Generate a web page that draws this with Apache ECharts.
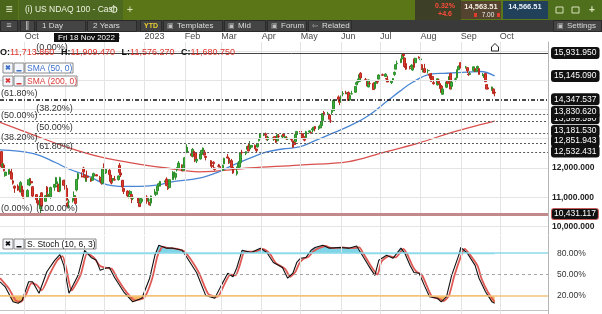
<!DOCTYPE html>
<html><head><meta charset="utf-8">
<script src="https://cdn.jsdelivr.net/npm/echarts@6/dist/echarts.min.js"></script>
<style>html,body{margin:0;padding:0;background:#fff}#c{width:602px;height:314px}</style>
</head><body><div id="c"></div><script>
// ---------- DATA (daily candles: [day, open, high, low, close]) ----------
const sep2022 = [[13,12560,12580,11990,12040],[14,12090,12180,11980,12130],[15,12100,12160,11880,11910],[16,11740,11870,11700,11860],[19,11790,11960,11770,11950],[20,11850,11900,11750,11830],[21,11840,12000,11610,11620],[22,11560,11600,11430,11480],[23,11380,11400,11150,11310],[26,11300,11440,11220,11250],[27,11380,11450,11170,11260],[28,11250,11550,11160,11500],[29,11380,11400,11050,11160],[30,11150,11260,10960,10970]];
const oct2022 = [[3,11010,11280,10990,11230],[4,11420,11610,11420,11600],[5,11420,11660,11380,11570],[6,11540,11650,11470,11490],[7,11360,11380,11000,11040],[10,11090,11110,10820,10920],[11,10880,10970,10720,10800],[12,10830,10890,10760,10800],[13,10600,11080,10440,11040],[14,11150,11170,10690,10700],[17,10860,11070,10860,11050],[18,11350,11380,10990,11130],[19,11010,11180,10990,11100],[20,11080,11260,11000,11060],[21,11010,11360,10950,11330],[24,11340,11450,11220,11440],[25,11450,11690,11430,11670],[26,11350,11540,11350,11400],[27,11440,11460,11180,11200],[28,11210,11700,11170,11670],[31,11570,11600,11400,11410]];
const nov2022 = [[1,11580,11600,11260,11320],[2,11310,11420,10890,10900],[3,10800,10850,10660,10690],[4,10840,10930,10630,10840],[7,10880,10980,10820,10960],[8,11000,11200,10920,11060],[9,11000,11030,10780,10790],[10,11250,11620,11200,11610],[11,11620,11840,11580,11800],[14,11730,11850,11680,11690],[15,12000,12040,11740,11860],[16,11760,11780,11650,11680],[17,11540,11690,11530,11670],[18,11715,11909,11576,11681],[21,11650,11660,11530,11550],[22,11580,11710,11560,11700],[23,11720,11840,11680,11810],[25,11770,11790,11720,11730],[28,11680,11730,11540,11560],[29,11560,11580,11430,11480],[30,11490,12000,11440,11990]];
const dec2022 = [[1,12040,12160,11930,12030],[2,11830,12000,11800,11960],[5,11920,11990,11730,11780],[6,11760,11790,11470,11540],[7,11500,11590,11440,11490],[8,11590,11660,11520,11640],[9,11600,11730,11580,11590],[12,11600,11740,11570,11730],[13,12090,12170,11750,11850],[14,11830,11990,11690,11760],[15,11580,11590,11310,11350],[16,11300,11320,11110,11200],[19,11210,11240,11000,11050],[20,11000,11120,10960,11040],[21,11100,11240,11070,11200],[22,11090,11090,10800,10960],[23,10960,11020,10900,11000],[27,10990,10990,10800,10860],[28,10850,10900,10670,10680],[29,10800,10990,10780,10960],[30,10860,10950,10850,10940]];
const jan2023 = [[3,11010,11070,10780,10860],[4,10900,10980,10800,10910],[5,10830,10840,10720,10740],[6,10800,11060,10700,11040],[9,11110,11280,11090,11110],[10,11100,11190,11040,11180],[11,11220,11390,11190,11380],[12,11400,11490,11280,11460],[13,11380,11560,11370,11540],[17,11520,11600,11480,11560],[18,11620,11680,11380,11400],[19,11330,11390,11250,11290],[20,11330,11610,11300,11600],[23,11600,11890,11590,11860],[24,11810,11880,11780,11830],[25,11680,11820,11600,11810],[26,11940,12020,11880,12010],[27,11990,12240,11980,12170],[30,12100,12120,11890,11900],[31,11920,12110,11900,12100]];
const feb2023 = [[1,12090,12380,11970,12350],[2,12520,12880,12500,12800],[3,12560,12720,12520,12570],[6,12490,12510,12390,12420],[7,12410,12680,12360,12640],[8,12570,12600,12380,12400],[9,12520,12530,12200,12250],[10,12240,12310,12170,12300],[13,12310,12500,12290,12480],[14,12460,12620,12360,12600],[15,12560,12700,12530,12680],[16,12540,12620,12440,12440],[17,12400,12410,12260,12360],[21,12250,12270,12060,12060],[22,12080,12140,12000,12060],[23,12200,12230,12000,12150],[24,12000,12010,11910,11950],[27,12070,12140,12020,12060],[28,12040,12120,12020,12040]];
const mar2023 = [[1,12040,12080,11930,11980],[2,11920,12110,11900,12090],[3,12140,12350,12130,12330],[6,12380,12480,12330,12340],[7,12340,12380,12140,12170],[8,12180,12260,12150,12240],[9,12250,12310,12000,12020],[10,12030,12060,11800,11830],[13,11800,12050,11740,11890],[14,12010,12180,11970,12150],[15,12030,12250,11980,12230],[16,12180,12540,12130,12520],[17,12540,12620,12460,12520],[20,12500,12570,12440,12560],[21,12640,12760,12610,12740],[22,12740,12850,12570,12580],[23,12680,12920,12640,12770],[24,12710,12790,12640,12770],[27,12780,12800,12640,12660],[28,12650,12660,12530,12590],[29,12720,12850,12700,12840],[30,12930,13010,12910,12980],[31,13000,13190,12990,13180]];
const apr2023 = [[3,13130,13200,13090,13150],[4,13170,13210,13080,13130],[5,13090,13100,12940,12990],[6,12970,13080,12920,13060],[10,12990,13050,12930,13040],[11,13070,13070,12960,12980],[12,13050,13090,12860,12880],[13,12930,13150,12920,13140],[14,13090,13160,13000,13080],[17,13060,13110,13020,13110],[18,13160,13180,13060,13090],[19,13020,13110,13000,13070],[20,13000,13090,12960,13000],[21,13000,13040,12960,13010],[24,13000,13010,12900,12970],[25,12930,12940,12700,12710],[26,12870,12880,12740,12800],[27,12900,13170,12890,13150],[28,13140,13250,13080,13250]];
const may2023 = [[1,13250,13290,13210,13230],[2,13180,13200,12990,13080],[3,13080,13190,12980,12990],[4,12980,13020,12910,12950],[5,13040,13270,13020,13240],[8,13230,13290,13200,13270],[9,13220,13230,13180,13190],[10,13300,13380,13210,13340],[11,13330,13410,13280,13390],[12,13420,13430,13250,13340],[15,13350,13440,13300,13410],[16,13370,13480,13370,13410],[17,13450,13610,13400,13590],[18,13620,13880,13600,13860],[19,13900,13950,13790,13810],[22,13820,13920,13820,13860],[23,13810,13850,13660,13670],[24,13610,13690,13540,13610],[25,13900,14010,13840,13940],[26,13960,14330,13950,14300],[30,14430,14480,14250,14350],[31,14290,14320,14150,14250]];
const jun2023 = [[1,14260,14480,14240,14460],[2,14530,14630,14450,14550],[5,14560,14640,14520,14550],[6,14530,14600,14470,14570],[7,14580,14620,14300,14310],[8,14330,14490,14300,14480],[9,14530,14640,14520,14540],[12,14590,14790,14570,14790],[13,14860,14960,14820,14920],[14,14920,15050,14830,15030],[15,14960,15200,14940,15190],[16,15240,15280,15060,15080],[20,15030,15080,14990,15030],[21,15000,15010,14790,14820],[22,14770,15020,14760,15010],[23,14890,14950,14850,14890],[26,14890,14930,14680,14680],[27,14720,14940,14700,14930],[28,14900,15010,14890,14960],[29,14960,14970,14880,14940],[30,15040,15200,15030,15180]];
const jul2023 = [[3,15190,15230,15150,15170],[5,15130,15240,15110,15210],[6,15060,15080,14930,15040],[7,15010,15150,14930,14940],[10,14920,14990,14870,14980],[11,15000,15070,14940,15060],[12,15200,15300,15150,15270],[13,15380,15550,15370,15530],[14,15560,15670,15520,15580],[17,15600,15740,15590,15720],[18,15730,15880,15670,15860],[19,15900,15932,15800,15840],[20,15760,15780,15420,15470],[21,15570,15600,15350,15380],[24,15420,15490,15370,15400],[25,15450,15550,15430,15510],[26,15350,15530,15320,15470],[27,15720,15740,15400,15440],[28,15600,15770,15590,15750],[31,15790,15820,15740,15760]];
const aug2023 = [[1,15700,15760,15680,15730],[2,15530,15550,15350,15380],[3,15290,15400,15270,15340],[4,15400,15560,15250,15270],[7,15330,15380,15230,15330],[8,15210,15230,15060,15170],[9,15220,15230,14950,14960],[10,15130,15250,14960,14990],[11,14920,14980,14850,14880],[14,14840,15060,14820,15050],[15,15010,15040,14880,14900],[16,14890,14950,14710,14720],[17,14800,14840,14570,14580],[18,14520,14730,14500,14700],[21,14760,14950,14730,14940],[22,14990,15000,14860,14890],[23,14970,15140,14960,15120],[24,15230,15250,14690,14700],[25,14790,14980,14690,14940],[28,15030,15090,14960,15050],[29,15080,15370,15070,15350],[30,15360,15480,15340,15460],[31,15480,15560,15450,15500]];
const sep2023 = [[1,15600,15620,15400,15450],[5,15450,15490,15400,15450],[6,15430,15450,15250,15320],[7,15210,15250,15150,15190],[8,15200,15300,15180,15230],[11,15330,15470,15300,15460],[12,15400,15420,15290,15300],[13,15310,15410,15280,15360],[14,15420,15500,15370,15470],[15,15400,15420,15190,15200],[18,15180,15250,15140,15200],[19,15150,15200,15080,15180],[20,15230,15250,14940,14950],[21,14850,14860,14690,14700],[22,14740,14860,14690,14700],[25,14680,14780,14640,14770],[26,14700,14720,14520,14550],[27,14590,14660,14450,14565]];

const sma50 = [['2022-09-12',12620],['2022-10-07',12500],['2022-10-25',12180],['2022-11-02',12000],['2022-11-20',11700],['2022-12-03',11430],['2022-12-16',11370],['2022-12-29',11370],['2023-01-12',11420],['2023-01-21',11520],['2023-02-12',11650],['2023-02-25',11830],['2023-03-10',12100],['2023-03-23',12340],['2023-04-05',12550],['2023-04-17',12650],['2023-04-30',12720],['2023-05-13',12950],['2023-05-26',13200],['2023-06-08',13450],['2023-06-21',13760],['2023-07-06',14270],['2023-07-16',14620],['2023-07-26',14930],['2023-08-08',15200],['2023-08-21',15240],['2023-09-06',15280],['2023-09-16',15300],['2023-09-27',15150]];
const sma200 = [['2022-09-12',13560],['2022-10-07',13140],['2022-11-02',12720],['2022-11-28',12380],['2022-12-23',12170],['2023-01-18',12000],['2023-02-12',11870],['2023-03-23',12000],['2023-04-30',12100],['2023-06-07',12220],['2023-07-01',12500],['2023-07-31',12860],['2023-08-24',13200],['2023-09-16',13480],['2023-09-27',13600]];

const stochK = [['2022-09-12',40],['2022-09-16',33],['2022-09-22',12],['2022-09-26',10],['2022-09-29',14],['2022-10-04',40],['2022-10-07',40],['2022-10-12',24],['2022-10-18',54],['2022-10-24',70],['2022-10-28',78],['2022-10-31',63],['2022-11-04',24],['2022-11-11',49],['2022-11-16',84],['2022-11-21',74],['2022-11-25',70],['2022-11-28',56],['2022-12-02',59],['2022-12-05',60],['2022-12-09',46],['2022-12-16',26],['2022-12-23',12],['2022-12-30',17],['2023-01-05',45],['2023-01-09',77],['2023-01-12',91],['2023-01-18',87],['2023-01-23',87],['2023-01-30',84],['2023-02-03',73],['2023-02-10',53],['2023-02-17',21],['2023-02-24',17],['2023-03-01',35],['2023-03-06',52],['2023-03-10',47],['2023-03-13',60],['2023-03-17',84],['2023-03-24',81],['2023-03-31',87],['2023-04-05',81],['2023-04-10',67],['2023-04-17',60],['2023-04-21',45],['2023-04-25',52],['2023-04-28',67],['2023-05-01',73],['2023-05-05',74],['2023-05-09',84],['2023-05-12',88],['2023-05-18',91],['2023-05-23',87],['2023-05-31',88],['2023-06-07',87],['2023-06-13',90],['2023-06-16',81],['2023-06-22',63],['2023-06-27',49],['2023-06-30',70],['2023-07-06',77],['2023-07-11',73],['2023-07-17',87],['2023-07-20',80],['2023-07-24',63],['2023-07-27',53],['2023-07-31',52],['2023-08-04',35],['2023-08-08',19],['2023-08-14',17],['2023-08-17',12],['2023-08-21',19],['2023-08-25',49],['2023-08-31',80],['2023-09-01',88],['2023-09-06',80],['2023-09-12',63],['2023-09-15',45],['2023-09-20',26],['2023-09-25',12],['2023-09-27',10]];
const stochD = [['2022-09-12',45],['2022-09-19',30],['2022-09-24',14],['2022-09-28',12],['2022-10-02',22],['2022-10-06',38],['2022-10-10',36],['2022-10-14',28],['2022-10-20',50],['2022-10-26',70],['2022-10-30',76],['2022-11-02',58],['2022-11-06',28],['2022-11-13',50],['2022-11-18',80],['2022-11-23',74],['2022-11-28',62],['2022-12-04',59],['2022-12-07',58],['2022-12-11',45],['2022-12-18',26],['2022-12-25',14],['2023-01-01',18],['2023-01-07',45],['2023-01-11',76],['2023-01-15',89],['2023-01-20',87],['2023-01-26',86],['2023-02-01',82],['2023-02-06',70],['2023-02-12',52],['2023-02-19',23],['2023-02-26',19],['2023-03-03',35],['2023-03-08',50],['2023-03-12',49],['2023-03-15',62],['2023-03-19',82],['2023-03-26',82],['2023-04-02',86],['2023-04-07',80],['2023-04-12',66],['2023-04-19',58],['2023-04-23',47],['2023-04-27',54],['2023-04-30',66],['2023-05-03',72],['2023-05-07',75],['2023-05-11',83],['2023-05-15',87],['2023-05-20',90],['2023-05-25',87],['2023-06-02',88],['2023-06-09',87],['2023-06-15',88],['2023-06-18',80],['2023-06-24',62],['2023-06-29',50],['2023-07-02',68],['2023-07-08',76],['2023-07-13',74],['2023-07-19',86],['2023-07-22',78],['2023-07-26',62],['2023-07-29',54],['2023-08-02',50],['2023-08-06',34],['2023-08-10',19],['2023-08-16',16],['2023-08-19',13],['2023-08-23',21],['2023-08-27',48],['2023-09-02',80],['2023-09-04',86],['2023-09-08',78],['2023-09-14',62],['2023-09-17',44],['2023-09-22',25],['2023-09-27',12]];

const fibALevels = [15931.950, 13830.620, 13181.530, 12532.431, 10431.117];
const fibALabels = ['(0.00%)', '(38.20%)', '(50.00%)', '(61.80%)', '(100.00%)'];
const fibBLevels = [10431.117, 12851.943, 13599.590, 14347.537];
const fibBLabels = ['(0.00%)', '(38.20%)', '(50.00%)', '(61.80%)'];
// drawn in this order (later ones on top)
const priceTags = [15931.950, 15145.090, 14347.537, 13599.590, 13830.620, 13181.530, 12851.943, 12532.431, 10431.117];
const priceGrid = [10000, 11000, 12000, 13000, 14000, 15000, 16000];
const stochLevels = [80, 50, 20];
const stochLevelLabels = ['80.00%', '50.00%', '20.00%'];
const monthStarts = ['2022-10-01','2022-11-01','2022-12-01','2023-01-01','2023-02-01','2023-03-01','2023-04-01','2023-05-01','2023-06-01','2023-07-01','2023-08-01','2023-09-01','2023-10-01'];
const monthNames = ['Jan','Feb','Mar','Apr','May','Jun','Jul','Aug','Sep','Oct','Nov','Dec'];
const ohlcText = {o: '11,713.860', h: '11,909.470', l: '11,576.270', c: '11,680.750'};

// ---------- BUILD ----------
const ts = s => { const p = s.split('-').map(Number); return new Date(p[0], p[1]-1, p[2]).getTime(); };
const monthRows = [['2022-09',sep2022],['2022-10',oct2022],['2022-11',nov2022],['2022-12',dec2022],['2023-01',jan2023],['2023-02',feb2023],['2023-03',mar2023],['2023-04',apr2023],['2023-05',may2023],['2023-06',jun2023],['2023-07',jul2023],['2023-08',aug2023],['2023-09',sep2023]];
const candleData = [];
monthRows.forEach(([ym, rows]) => {
  const p = ym.split('-').map(Number);
  rows.forEach(r => candleData.push([new Date(p[0], p[1]-1, r[0]).getTime(), r[1], r[4], r[3], r[2]]));
});
const toXY = arr => arr.map(([d, v]) => [ts(d), v]);
const fmt3 = v => v.toLocaleString('en-US', {minimumFractionDigits: 3, maximumFractionDigits: 3});

const xMin = ts('2022-09-12'), xMax = ts('2023-11-07');
const fibAStart = ts('2022-10-09');
const yMin = 9709, yMax = 16308;
const sMin = -5, sMax = 104;
const sTop = 236, sH = 78;
const hUp = (sMax - 80) / (sMax - sMin) * sH;
const lowTop = sTop + (sMax - 20) / (sMax - sMin) * sH;
const hLow = (20 - sMin) / (sMax - sMin) * sH;

const dottedStyle = {color: '#5a5a5a', width: 1, type: [2, 2]};
const fibLineStyle = (lvl) => {
  if (lvl === 15931.950) return {color: '#444', width: 1, type: 'solid'};
  if (lvl === 14347.537) return {color: '#111', width: 1.6, type: [4, 2, 1, 2]};
  if (lvl === 10431.117) return {color: '#c28a8a', width: 3, type: 'solid'};
  return dottedStyle;
};
const fibLabel = (t, dx) => ({show: true, position: 'insideStartTop', formatter: t, color: '#333', fontSize: 9, fontFamily: 'Arial', distance: [dx, 1]});

const fibData = [];
fibBLevels.forEach((v, i) => fibData.push({yAxis: v, lineStyle: fibLineStyle(v), label: fibLabel(fibBLabels[i], 1)}));
fibALevels.forEach((v, i) => fibData.push([{coord: [fibAStart, v], lineStyle: fibLineStyle(v), label: fibLabel(fibALabels[i], 1)}, {coord: [xMax, v]}]));

const tagShift = {13830.62: -2.5, 13599.59: -3, 13181.53: -2.5, 12851.943: -2, 12532.431: -1};
const tagData = priceTags.map(v => ({yAxis: v, label: {formatter: fmt3(v), offset: [0, tagShift[v] || 0],
  borderColor: v === 10431.117 ? '#c75a5a' : '#111', borderWidth: 1}}));

const monthLines = monthStarts.map(s => ({xAxis: ts(s)}));
const gridLineML = (extra) => ({silent: true, symbol: ['none','none'], animation: false, label: {show: false},
  lineStyle: {color: '#e4e4e4', width: 1, type: 'solid'}, data: extra});

// ---------- CHROME ----------
const G = [];
const rect = (x, y, w, h, fill, stroke) => G.push({type: 'rect', silent: true, z: 100, shape: {x, y, width: w, height: h, r: 0}, style: {fill, stroke: stroke || null, lineWidth: stroke ? 1 : 0}});
const txt = (x, y, s, color, font, align) => G.push({type: 'text', silent: true, z: 101, x, y, style: {text: s, fill: color, font: font || '8px Arial', align: align || 'left', verticalAlign: 'middle'}});
// row 1
rect(0, 0, 602, 20, '#5b7617');
rect(0, 0, 18, 20, '#4b661a');
txt(9, 10, '\u2261', '#e6ecd2', 'bold 12px Arial', 'center');
rect(19, 0, 104, 20, '#4d6820');
txt(25, 10, '(i) US NDAQ 100 - Cash', '#eef2e2', '8.5px Arial');
G.push({type: 'circle', silent: true, z: 101, shape: {cx: 114, cy: 9.5, r: 3}, style: {fill: null, stroke: '#dfe6cc', lineWidth: 1}});
txt(130, 10, '+', '#d8e2b8', '11px Arial', 'center');
rect(415, 0, 46, 20, '#3d3f27');
txt(445, 6, '0.32%', '#ff4b3a', 'bold 7px Arial', 'center');
txt(445, 14.5, '+4.6', '#ff4b3a', 'bold 7px Arial', 'center');
rect(461, 1, 40, 18, '#54432f');
txt(481, 6.5, '14,563.51', '#f3ece0', 'bold 7.5px Arial', 'center');
rect(474, 13, 3, 4, '#e23b2b'); txt(488, 15, '7.00', '#f0f0f0', '6.5px Arial', 'center'); rect(497, 13, 3, 4, '#e23b2b');
rect(503, 1, 45, 18, '#21405a');
txt(525, 6.5, '14,566.51', '#e8f0f8', 'bold 7.5px Arial', 'center');
rect(548, 0, 54, 20, '#4f6f1c');
rect(556, 7, 7, 6, null, '#d7e2b8'); rect(572, 7, 7, 6, null, '#d7e2b8'); txt(592, 10, '+', '#d7e2b8', 'bold 10px Arial', 'center');
// row 2
rect(0, 20, 602, 12, '#3a3a3a');
const btns = [[0,18,'\u2261'],[20,15,'\u2225'],[36,50,'1 Day'],[87,50,'2 Years'],[140,22,'YTD'],[163,60,'Templates'],[224,42,'Mid'],[267,40,'Forum'],[308,44,'Related'],[553,49,'Settings']];
btns.forEach(([x, w, t]) => {
  rect(x + 0.5, 20.5, w - 1, 11, '#444444', '#2a2a2a');
  let tx = x + 6;
  if (t === 'YTD') { txt(x + w / 2, 26, t, '#e8cf2e', 'bold 7px Arial', 'center'); return; }
  if (['Templates','Mid','Forum','Related','Settings'].includes(t)) { txt(x + 4, 26, t === 'Related' ? '\u21e6' : '\u25a3', '#bdbdbd', '7px Arial'); tx = x + 14; }
  if (t.length <= 2) { txt(x + w / 2, 26, t, '#cfcfcf', '9px Arial', 'center'); return; }
  txt(tx, 26, t, '#dcdcdc', '8px Arial');
});
// crosshair date tag
rect(54, 33, 65, 9, '#111');
txt(86.5, 37.5, 'Fri 18 Nov 2022', '#ffffff', '8px Arial', 'center');
// OHLC line
G.push({type: 'text', silent: true, z: 101, x: 0, y: 53, style: {
  text: '{k|O:}{v|' + ohlcText.o + '}  {k|H:}{v|' + ohlcText.h + '}  {k|L:}{v|' + ohlcText.l + '}  {k|C:}{v|' + ohlcText.c + '}',
  verticalAlign: 'middle', rich: {k: {fill: '#111', font: 'bold 9px Arial'}, v: {fill: '#e0342c', font: '9px Arial'}}}});
// indicator legends
const legendBox = (x, y, w, color, label) => {
  rect(x, y, 10, 10, '#f4f6fb', '#8a8a8a'); txt(x + 5, y + 5, '\u2716', color, 'bold 7px Arial', 'center');
  rect(x + 11, y, 10, 10, '#f4f6fb', '#8a8a8a'); rect(x + 13.5, y + 7, 5, 1.5, color);
  rect(x + 22, y, w, 10, '#ffffff', '#8a8a8a'); txt(x + 24, y + 5.5, label, color, '8.5px Arial');
};
legendBox(3, 63, 48, '#3b6fc8', 'SMA (50, 0)');
legendBox(3, 76, 52, '#d93a3a', 'SMA (200, 0)');
legendBox(3, 239, 71, '#111', 'S. Stoch (10, 6, 3)');
// alert marker
G.push({type: 'polygon', silent: true, z: 101, shape: {points: [[491.5, 51], [491.5, 47], [495, 43.5], [498.5, 47], [498.5, 51]]}, style: {fill: '#fff', stroke: '#222', lineWidth: 1}});

// ---------- CHART ----------
const chart = echarts.init(document.getElementById('c'), null, {renderer: 'canvas'});
const hiddenAxis = (i) => ({type: 'time', gridIndex: i, min: xMin, max: xMax, show: false});
chart.setOption({
  animation: false,
  backgroundColor: '#ffffff',
  grid: [
    {left: 0, right: 54, top: 42, height: 193},
    {left: 0, right: 54, top: sTop, height: sH},
    {left: 0, right: 54, top: sTop, height: hUp},
    {left: 0, right: 54, top: lowTop, height: hLow}
  ],
  xAxis: [
    {type: 'time', gridIndex: 0, min: xMin, max: xMax, position: 'top', splitNumber: 14,
     minInterval: 28 * 86400000, maxInterval: 31 * 86400000,
     axisLine: {show: false}, axisTick: {show: false}, splitLine: {show: false},
     axisLabel: {show: true, align: 'left', margin: 1, fontSize: 9, color: '#4a4a4a', fontFamily: 'Arial', hideOverlap: false,
       formatter: (v) => { const d = new Date(v); if (d.getDate() !== 1 || v > ts('2023-10-15')) return ''; return d.getMonth() === 0 ? String(d.getFullYear()) : monthNames[d.getMonth()]; }}},
    {type: 'time', gridIndex: 1, min: xMin, max: xMax, position: 'top',
     axisLine: {show: true, lineStyle: {color: '#c4c4c4'}}, axisTick: {show: false}, axisLabel: {show: false}, splitLine: {show: false}},
    hiddenAxis(2), hiddenAxis(3)
  ],
  yAxis: [
    {type: 'value', gridIndex: 0, position: 'right', min: yMin, max: yMax, splitNumber: 7,
     axisLine: {show: true, lineStyle: {color: '#b5b5b5'}}, axisTick: {show: false}, splitLine: {show: false},
     axisLabel: {fontSize: 8.5, color: '#222', margin: 4, fontFamily: 'Arial', fontWeight: 'bold',
       formatter: (v) => (v <= 12000 && v >= 10000 && v % 1000 === 0) ? fmt3(v) : ''}},
    {type: 'value', gridIndex: 1, position: 'right', min: sMin, max: sMax,
     axisLine: {show: true, lineStyle: {color: '#b5b5b5'}}, axisTick: {show: false}, axisLabel: {show: false}, splitLine: {show: false}},
    {type: 'value', gridIndex: 2, min: 80, max: sMax, show: false},
    {type: 'value', gridIndex: 3, min: sMin, max: 20, show: false}
  ],
  series: [
    {type: 'line', xAxisIndex: 0, yAxisIndex: 0, data: [], z: 0, silent: true,
     markLine: gridLineML([...priceGrid.map(v => ({yAxis: v})), ...monthLines])},
    {type: 'line', xAxisIndex: 0, yAxisIndex: 0, data: [], z: 1, silent: true,
     markLine: {silent: true, symbol: ['none','none'], animation: false, data: fibData}},
    {type: 'line', name: 'SMA200', xAxisIndex: 0, yAxisIndex: 0, data: toXY(sma200), smooth: 0.4, showSymbol: false, z: 2,
     lineStyle: {color: '#d8514e', width: 1.3}},
    {type: 'line', name: 'SMA50', xAxisIndex: 0, yAxisIndex: 0, data: toXY(sma50), smooth: 0.4, showSymbol: false, z: 2,
     lineStyle: {color: '#4a86d4', width: 1.3}},
    {type: 'candlestick', xAxisIndex: 0, yAxisIndex: 0, data: candleData, barWidth: 2.2, z: 3,
     itemStyle: {color: '#3caf3a', color0: '#dd3a2f', borderColor: '#2f8f2d', borderColor0: '#b8291f', borderWidth: 1}},
    {type: 'line', xAxisIndex: 0, yAxisIndex: 0, data: [], z: 5, silent: true,
     markLine: {silent: true, symbol: ['none','none'], animation: false, lineStyle: {color: 'rgba(0,0,0,0)', width: 0},
       label: {show: true, position: 'end', distance: 4, color: '#fff', backgroundColor: '#111', padding: [1, 2, 0, 2], borderRadius: 2,
               fontSize: 8.5, fontFamily: 'Arial'},
       data: tagData}},
    // stochastic panel
    {type: 'line', xAxisIndex: 1, yAxisIndex: 1, data: [], z: 0, silent: true, markLine: gridLineML(monthLines)},
    {type: 'line', xAxisIndex: 2, yAxisIndex: 2, data: toXY(stochK), showSymbol: false, z: 1, silent: true,
     lineStyle: {opacity: 0}, areaStyle: {color: '#7fd5e8', opacity: 1, origin: 'start'}},
    {type: 'line', xAxisIndex: 3, yAxisIndex: 3, data: toXY(stochK), showSymbol: false, z: 1, silent: true,
     lineStyle: {opacity: 0}, areaStyle: {color: '#f6bb62', opacity: 1, origin: 'end'}},
    {type: 'line', xAxisIndex: 1, yAxisIndex: 1, data: [], z: 2, silent: true,
     markLine: {silent: true, symbol: ['none','none'], animation: false,
       label: {show: true, position: 'end', distance: 9, color: '#333', fontSize: 8.5, fontFamily: 'Arial'},
       data: stochLevels.map((v, i) => ({yAxis: v, label: {formatter: stochLevelLabels[i]},
         lineStyle: v === 80 ? {color: '#8cdaea', width: 1.5, type: 'solid'} : v === 20 ? {color: '#f3c47c', width: 1.5, type: 'solid'} : {color: '#a5a5a5', width: 1, type: [3, 3]}}))}},
    {type: 'line', name: '%D', xAxisIndex: 1, yAxisIndex: 1, data: toXY(stochD), showSymbol: false, z: 3, smooth: 0.2,
     lineStyle: {color: '#e05a55', width: 1.8}},
    {type: 'line', name: '%K', xAxisIndex: 1, yAxisIndex: 1, data: toXY(stochK), showSymbol: false, z: 4,
     lineStyle: {color: '#111', width: 1.1}}
  ],
  graphic: G
});
</script></body></html>
